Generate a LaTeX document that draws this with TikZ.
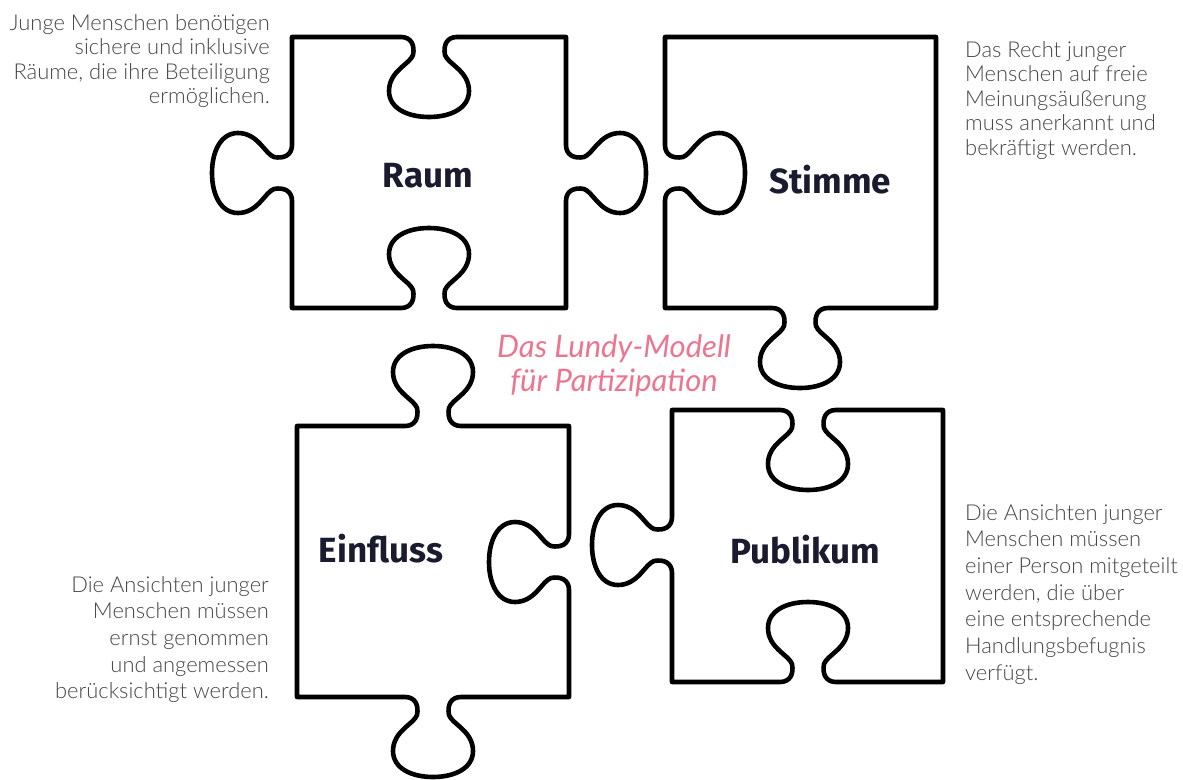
\documentclass[tikz,border=0pt]{standalone}
\usepackage{fontspec}
\setmainfont{Lato}
\newfontfamily\descfont{Lato Light}
\newfontfamily\labfont{Fira Sans}
\definecolor{desccol}{RGB}{70,70,70}
\definecolor{titlecol}{RGB}{236,118,143}
\definecolor{labcol}{RGB}{27,27,47}
\tikzset{
  piece/.style={draw=black, line width=4.6pt, line join=round},
  desc/.style={text=desccol, inner sep=0pt, font=\descfont\fontsize{21.9}{24.5}\selectfont},
  descb/.style={text=desccol, inner sep=0pt, font=\descfont\fontsize{21.9}{26.7}\selectfont},
  lab/.style={text=labcol, inner sep=0pt, anchor=base, font=\labfont\bfseries\fontsize{35}{40}\selectfont},
  ttl/.style={text=titlecol, inner sep=0pt, align=center, font=\itshape\fontsize{31}{34}\selectfont},
  jig/.style n args={6}{insert path={
    -- ({#1+(-28)*(#3)},{#2+(-28)*(#4)})
    .. controls ({#1+(-18)*(#3)},{#2+(-18)*(#4)}) and ({#1+(-14)*(#3)+8*(#5)},{#2+(-14)*(#4)+8*(#6)})
    .. ({#1+(-16)*(#3)+18*(#5)},{#2+(-16)*(#4)+18*(#6)})
    .. controls ({#1+(-19)*(#3)+27*(#5)},{#2+(-19)*(#4)+27*(#6)}) and ({#1+(-40)*(#3)+34*(#5)},{#2+(-40)*(#4)+34*(#6)})
    .. ({#1+(-40)*(#3)+54*(#5)},{#2+(-40)*(#4)+54*(#6)})
    .. controls ({#1+(-40)*(#3)+71*(#5)},{#2+(-40)*(#4)+71*(#6)}) and ({#1+(-22)*(#3)+80*(#5)},{#2+(-22)*(#4)+80*(#6)})
    .. ({#1+80*(#5)},{#2+80*(#6)})
    .. controls ({#1+22*(#3)+80*(#5)},{#2+22*(#4)+80*(#6)}) and ({#1+40*(#3)+71*(#5)},{#2+40*(#4)+71*(#6)})
    .. ({#1+40*(#3)+54*(#5)},{#2+40*(#4)+54*(#6)})
    .. controls ({#1+40*(#3)+34*(#5)},{#2+40*(#4)+34*(#6)}) and ({#1+19*(#3)+27*(#5)},{#2+19*(#4)+27*(#6)})
    .. ({#1+16*(#3)+18*(#5)},{#2+16*(#4)+18*(#6)})
    .. controls ({#1+14*(#3)+8*(#5)},{#2+14*(#4)+8*(#6)}) and ({#1+18*(#3)},{#2+18*(#4)})
    .. ({#1+28*(#3)},{#2+28*(#4)})
  }}
}
\begin{document}
\begin{tikzpicture}[x=1pt,y=-1pt]
\fill[white] (0,0) rectangle (1183,779);
\useasboundingbox (0,0) rectangle (1183,779);

% Raum
\draw[piece] (292,37) [jig={429}{37}{1}{0}{0}{1}] -- (566,37)
  [jig={566}{173}{0}{1}{1}{0}] -- (566,308)
  [jig={429}{308}{-1}{0}{0}{-1}] -- (292,308)
  [jig={292}{173}{0}{-1}{-1}{0}] -- cycle;
% Stimme
\draw[piece] (665,37) -- (936,37) -- (936,308)
  [jig={800}{308}{-1}{0}{0}{1}] -- (665,308)
  [jig={665}{173}{0}{-1}{1}{0}] -- cycle;
% Einfluss
\draw[piece] (297,426) [jig={433}{426}{1}{0}{0}{-1}] -- (569,426)
  [jig={569}{562}{0}{1}{-1}{0}] -- (569,697)
  [jig={433}{697}{-1}{0}{0}{1}] -- (297,697) -- cycle;
% Publikum
\draw[piece] (672,410) [jig={808}{410}{1}{0}{0}{1}] -- (943,410) -- (943,682)
  [jig={808}{682}{-1}{0}{0}{-1}] -- (672,682)
  [jig={672}{545}{0}{-1}{-1}{0}] -- cycle;

\node[lab] (raum) at (428,187) {Raum};
\node[lab] (stimme) at (830,193) {Stimme};
\node[lab] (einfluss) at (381,562) {Einfluss};
\node[lab] (publikum) at (805,563) {Publikum};

\node[ttl, anchor=north] (title) at (614,334) {Das Lundy-Modell\\für Partizipation};

\node[desc, align=right, anchor=north east] (d1) at (270,14)
  {Junge Menschen benötigen\\sichere und inklusive\\Räume, die ihre Beteiligung\\ermöglichen.};
\node[desc, align=left, anchor=north west] (d2) at (965,41)
  {Das Recht junger\\Menschen auf freie\\Meinungsäußerung\\muss anerkannt und\\bekräftigt werden.};
\node[descb, align=right, anchor=north east] (d3) at (269,576)
  {Die Ansichten junger\\Menschen müssen\\ernst genommen\\und angemessen\\berücksichtigt werden.};
\node[descb, align=left, anchor=north west] (d4) at (965,504)
  {Die Ansichten junger\\Menschen müssen\\einer Person mitgeteilt\\werden, die über\\eine entsprechende\\Handlungsbefugnis\\verfügt.};
\end{tikzpicture}
\end{document}
